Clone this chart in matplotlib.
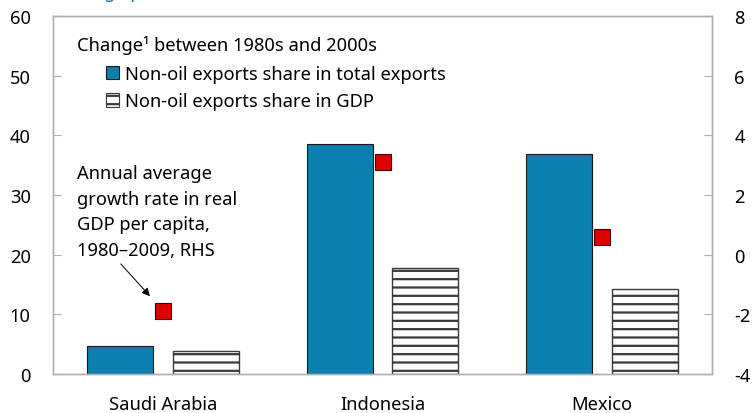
import numpy as np
import matplotlib.pyplot as plt
from matplotlib.patches import Patch

plt.rcParams['font.family'] = ['Noto Sans', 'DejaVu Sans']
plt.rcParams['axes.unicode_minus'] = False
plt.rcParams['hatch.linewidth'] = 1.6
plt.rcParams['hatch.color'] = '#3a3a3a'

countries = ['Saudi Arabia', 'Indonesia', 'Mexico']
share_total_exports = [4.7, 38.5, 36.9]
share_gdp = [3.8, 17.7, 14.2]
gdp_growth = [-1.9, 3.1, 0.6]

blue = '#0a7fb0'
red = '#e00000'
grey = '#b0b0b0'
fs = 13.2

fig = plt.figure(figsize=(7.54, 4.14), dpi=100)
ax = fig.add_axes([53 / 754, 39 / 414, 659 / 754, 358 / 414])
ax2 = ax.twinx()

x = np.arange(len(countries))
w = 0.30
off = 0.195
ax.bar(x - off, share_total_exports, w, color=blue, edgecolor='#1a1a1a', linewidth=0.8, zorder=2)
ax.bar(x + off, share_gdp, w, color='white', edgecolor='#3a3a3a', linewidth=1.0, hatch='--', zorder=2)
ax2.plot(x, gdp_growth, linestyle='none', marker='s', markersize=12,
         markerfacecolor=red, markeredgecolor='#400000', markeredgewidth=0.8, zorder=3)

ax.set_xlim(-0.5, 2.5)
ax.set_ylim(0, 60)
ax.set_yticks(range(0, 61, 10))
ax2.set_ylim(-4, 8)
ax2.set_yticks(range(-4, 9, 2))
ax.set_xticks(x)
ax.set_xticklabels(countries)

for a in (ax, ax2):
    for s in a.spines.values():
        s.set_color(grey)
        s.set_linewidth(1.0)
    a.tick_params(axis='x', length=0, labelsize=fs, pad=15)
ax.tick_params(axis='y', direction='in', length=6, color=grey, labelsize=fs, pad=16)
ax2.tick_params(axis='y', direction='in', length=6, color=grey, labelsize=fs, pad=16)

# legend
ax.text(-0.39, 55.3, 'Change\u00b9 between 1980s and 2000s', fontsize=fs, va='center', ha='left')
handles = [Patch(facecolor=blue, edgecolor='#1a1a1a', linewidth=0.8),
           Patch(facecolor='white', edgecolor='#3a3a3a', hatch='--', linewidth=0.8)]
ax.legend(handles, ['Non-oil exports share in total exports', 'Non-oil exports share in GDP'],
          loc='upper left', bbox_to_anchor=(0.08, 0.864), frameon=False, fontsize=fs,
          handlelength=0.75, handleheight=0.75, handletextpad=0.3, labelspacing=0.53,
          borderaxespad=0, borderpad=0)

# annotation for RHS marker
ax.text(-0.39, 35.2, 'Annual average\ngrowth rate in real\nGDP per capita,\n1980\u20132009, RHS',
        fontsize=fs, va='top', ha='left', linespacing=1.54)
ax.annotate('', xy=(-0.05, 12.7), xytext=(-0.2, 18.8),
            arrowprops=dict(arrowstyle='-|>', color='black', lw=0.7, mutation_scale=12))

fig.text(28 / 754, 1 + 1.5 / 414, 'Percentage points', color=blue, fontsize=fs,
         ha='left', va='baseline')

fig.savefig('out.png', dpi=100)
